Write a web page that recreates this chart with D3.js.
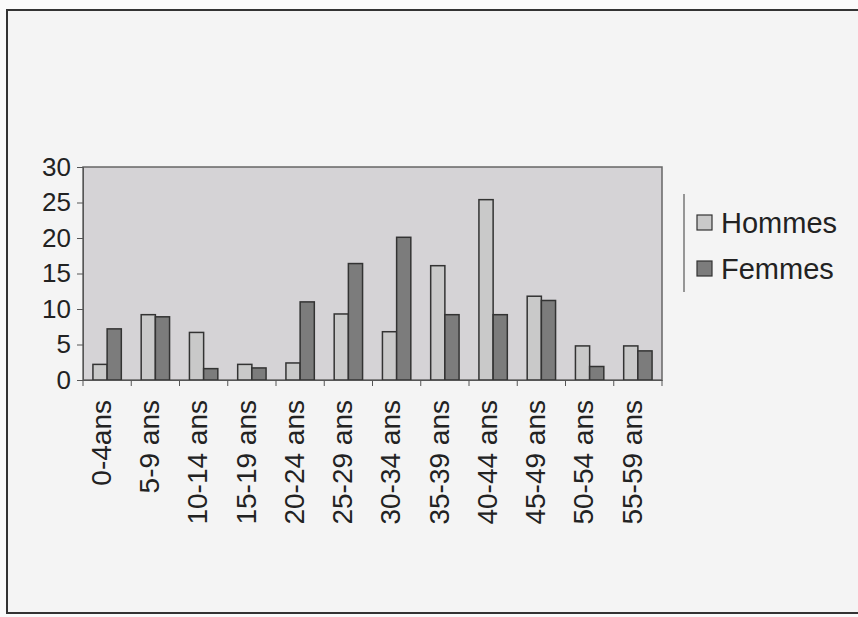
<!DOCTYPE html>
<html>
<head>
<meta charset="utf-8">
<script src="https://cdn.jsdelivr.net/npm/d3@7"></script>
<style>
  body { margin: 0; background: #fafafa; }
  svg { display: block; font-family: "Liberation Sans", Arial, sans-serif; }
</style>
</head>
<body>
<div id="chart"></div>
<script>
// data
const categories = ["0-4ans", "5-9 ans", "10-14 ans", "15-19 ans", "20-24 ans", "25-29 ans",
    "30-34 ans", "35-39 ans", "40-44 ans", "45-49 ans", "50-54 ans", "55-59 ans"];
const hommes = [2.2, 9.2, 6.7, 2.2, 2.4, 9.3, 6.8, 16.1, 25.4, 11.8, 4.8, 4.8];
const femmes = [7.2, 8.9, 1.6, 1.7, 11.0, 16.4, 20.1, 9.2, 9.2, 11.2, 1.9, 4.1];
const seriesNames = ["Hommes", "Femmes"];
const yTicks = [0, 5, 10, 15, 20, 25, 30];

const svgWidth = 858,
    svgHeight = 617,
    plot = { left: 83, top: 167, right: 662, bottom: 380 };

const colors = { Hommes: "#c9c9c9", Femmes: "#7c7c7c" };

let svg = d3.select("#chart").append("svg")
    .attr("width", svgWidth)
    .attr("height", svgHeight);

// chart area frame
svg.append("rect")
    .attr("x", 7).attr("y", 10)
    .attr("width", 870).attr("height", 603)
    .attr("fill", "#f4f4f4")
    .attr("stroke", "#333")
    .attr("stroke-width", 2);

let x0 = d3.scaleBand()
    .domain(categories)
    .range([plot.left, plot.right])
    .paddingInner(0)
    .paddingOuter(0);

// two bars per group, gap of 150% of a bar width
let x1 = d3.scaleBand()
    .domain(seriesNames)
    .range([0, x0.bandwidth()])
    .paddingOuter(0.7)
    .paddingInner(0);

let y = d3.scaleLinear()
    .domain([0, 30])
    .range([plot.bottom, plot.top]);

// plot background
svg.append("rect")
    .attr("x", plot.left).attr("y", plot.top)
    .attr("width", plot.right - plot.left).attr("height", plot.bottom - plot.top)
    .attr("fill", "#d5d3d6")
    .attr("stroke", "#666")
    .attr("stroke-width", 1.5);

// bars
let rows = categories.map((c, i) => ({ cat: c, values: [
    { key: "Hommes", value: hommes[i] },
    { key: "Femmes", value: femmes[i] }
] }));

svg.append("g").selectAll("g")
    .data(rows)
    .join("g")
    .attr("transform", (d) => `translate(${x0(d.cat)},0)`)
    .selectAll("rect")
    .data((d) => d.values)
    .join("rect")
    .attr("x", (d) => x1(d.key))
    .attr("y", (d) => y(d.value))
    .attr("width", x1.bandwidth())
    .attr("height", (d) => y(0) - y(d.value))
    .attr("fill", (d) => colors[d.key])
    .attr("stroke", "#333")
    .attr("stroke-width", 1.5);

// y axis
let yAxis = svg.append("g")
    .attr("transform", `translate(${plot.left},0)`)
    .call(d3.axisLeft(y).tickValues(yTicks).tickSize(6).tickPadding(6));
yAxis.select(".domain").attr("stroke", "#555");
yAxis.selectAll(".tick line").attr("stroke", "#555");
yAxis.selectAll("text")
    .attr("font-size", 26)
    .attr("fill", "#222");

// x axis: labels rotated, ticks on category boundaries
let xAxis = svg.append("g")
    .attr("transform", `translate(0,${plot.bottom})`)
    .call(d3.axisBottom(x0).tickSize(0).tickPadding(0));
xAxis.select(".domain").attr("stroke", "#555");
xAxis.selectAll(".tick text")
    .attr("font-size", 28)
    .attr("fill", "#222")
    .attr("text-anchor", "end")
    .attr("transform", "translate(-6,20) rotate(-90)")
    .attr("dy", "0.35em")
    .attr("y", 0)
    .attr("x", 0);

svg.append("g").selectAll("line")
    .data(categories.concat([null]))
    .join("line")
    .attr("x1", (d, i) => plot.left + i * x0.step())
    .attr("x2", (d, i) => plot.left + i * x0.step())
    .attr("y1", plot.bottom)
    .attr("y2", plot.bottom + 6)
    .attr("stroke", "#555");

// legend
let legend = svg.append("g");
legend.append("line")
    .attr("x1", 684).attr("x2", 684)
    .attr("y1", 194).attr("y2", 292)
    .attr("stroke", "#777")
    .attr("stroke-width", 1.5);

let items = legend.selectAll("g.item")
    .data(seriesNames)
    .join("g")
    .attr("class", "item")
    .attr("transform", (d, i) => `translate(697,${215 + i * 46})`);

items.append("rect")
    .attr("width", 15).attr("height", 15)
    .attr("fill", (d) => colors[d])
    .attr("stroke", "#333")
    .attr("stroke-width", 1.2);

items.append("text")
    .attr("x", 24)
    .attr("y", 8)
    .attr("dy", "0.36em")
    .attr("font-size", 29)
    .attr("fill", "#222")
    .text((d) => d);
</script>
</body>
</html>
